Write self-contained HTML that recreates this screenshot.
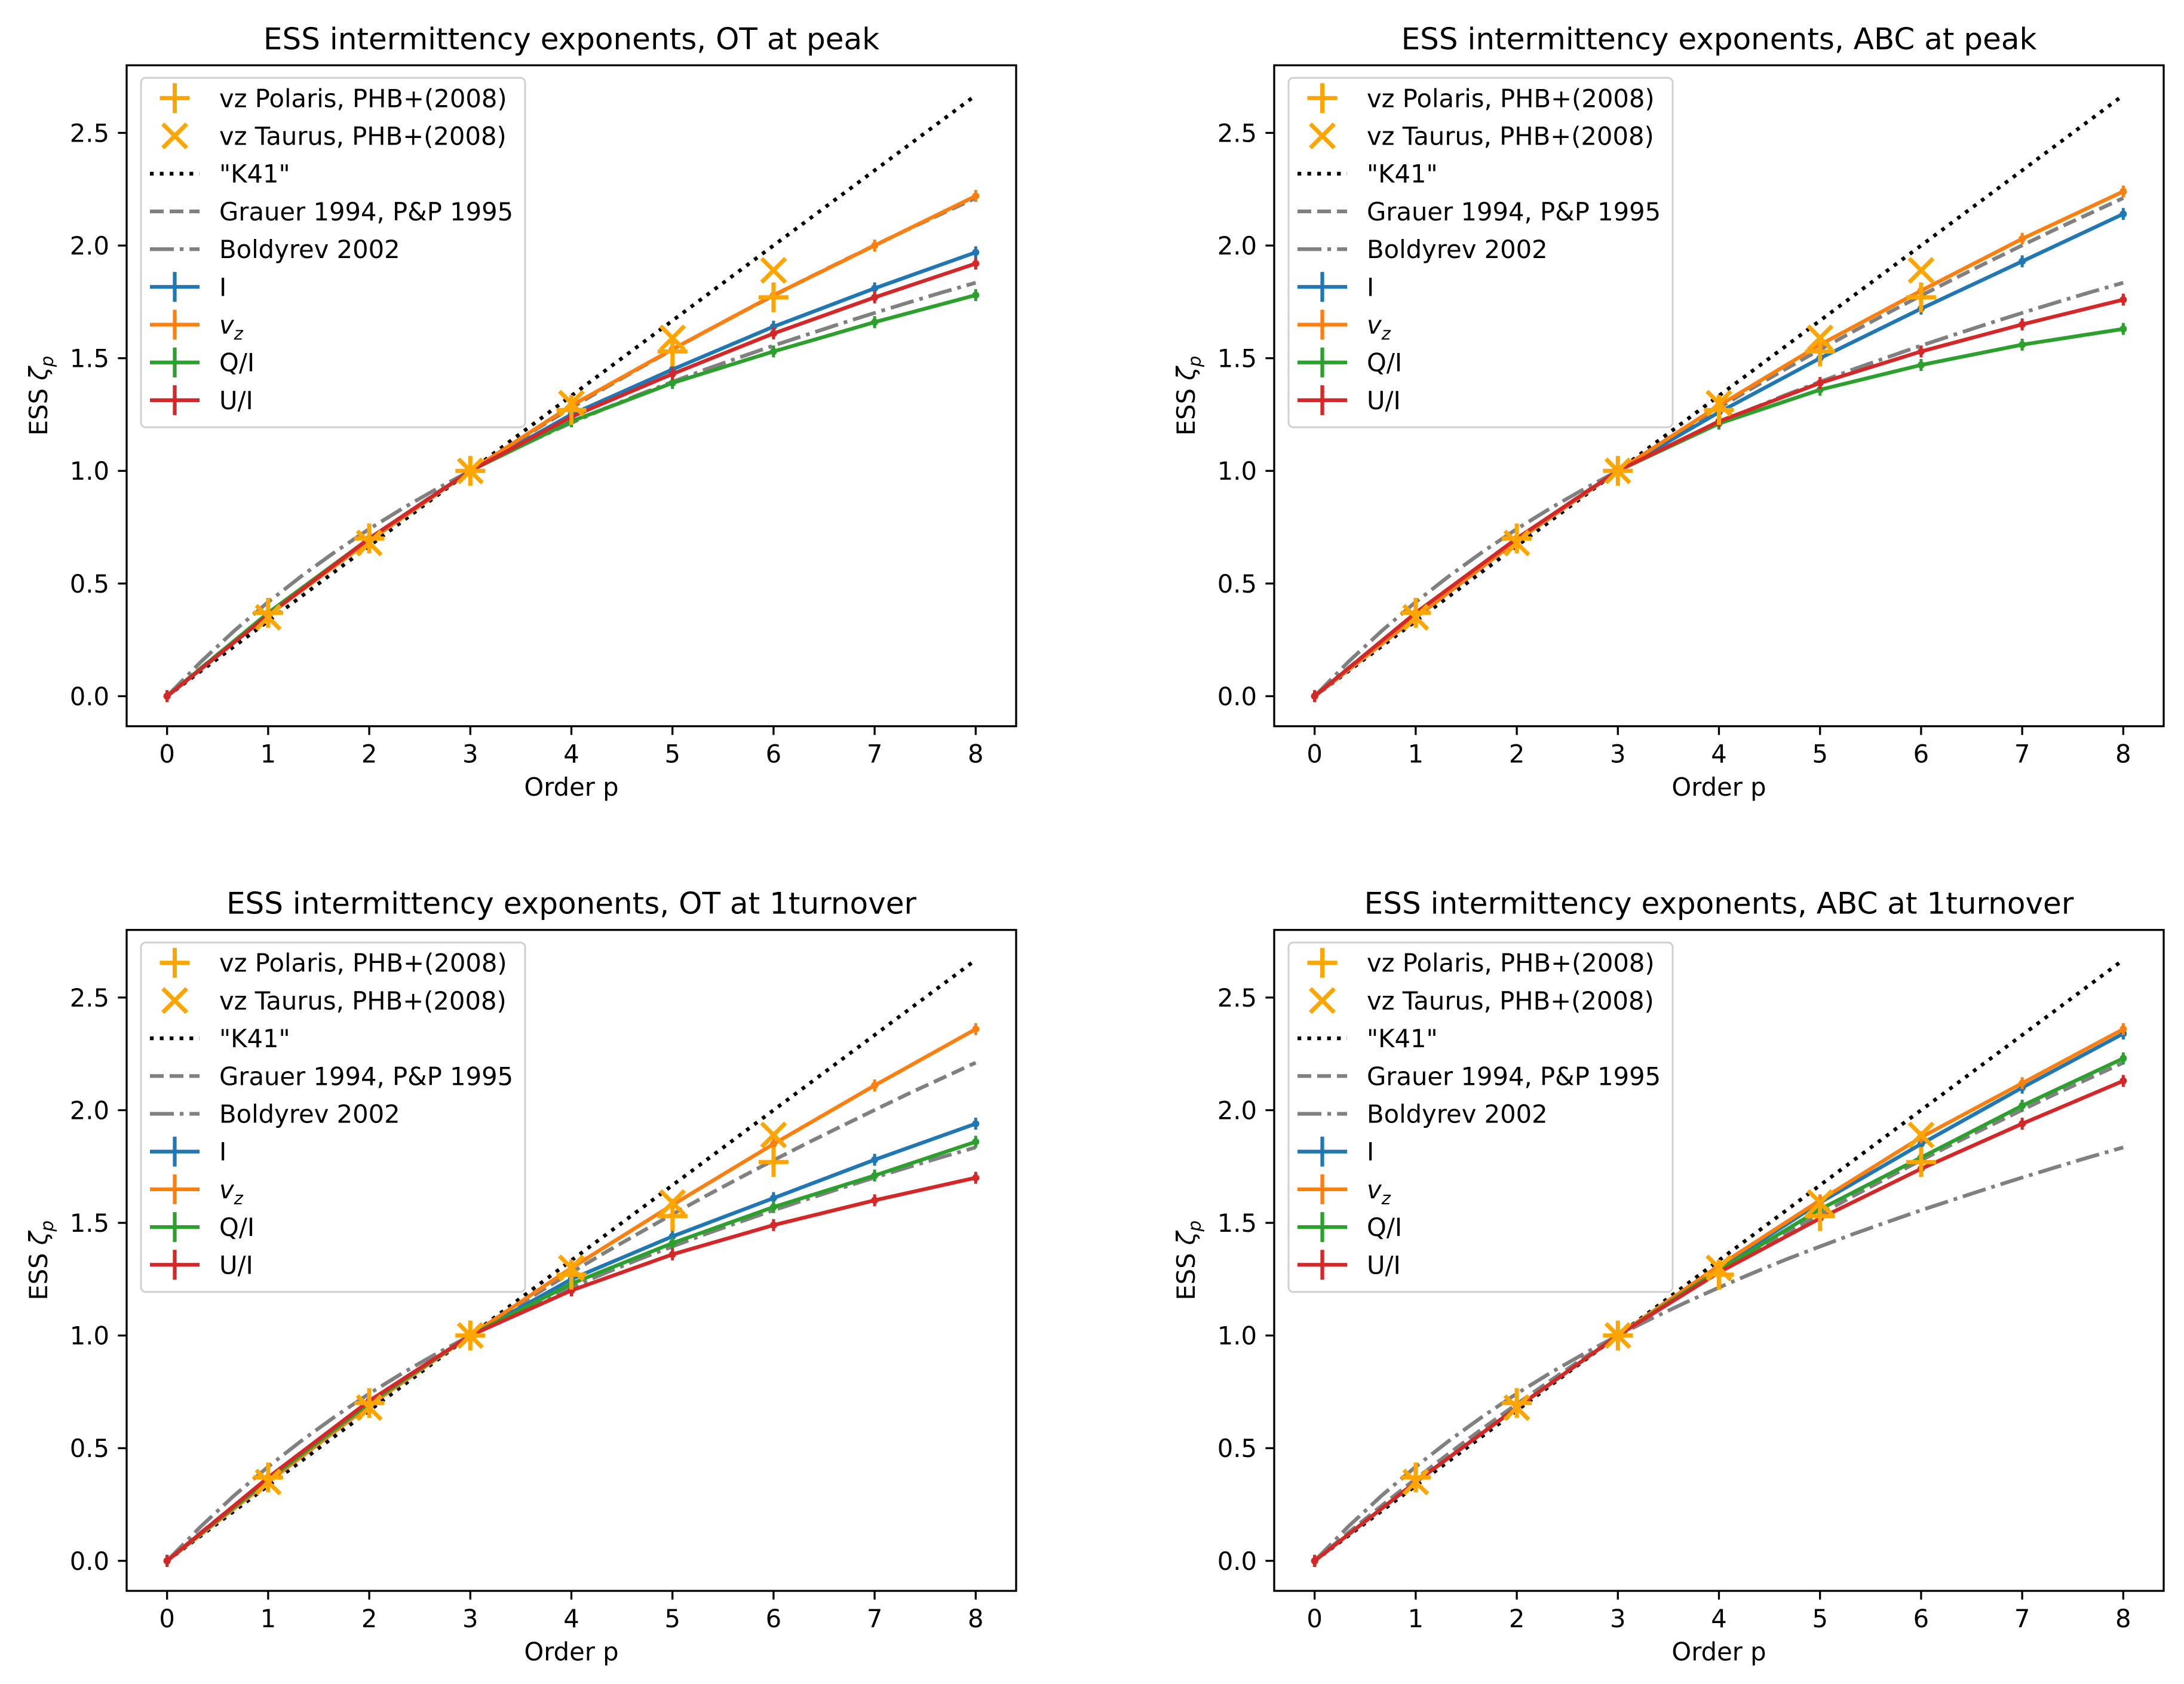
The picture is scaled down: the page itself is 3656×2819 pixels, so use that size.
<!DOCTYPE html>
<html><head><meta charset="utf-8"><style>
html,body{margin:0;padding:0;background:#fff;}
svg{display:block;font-family:"DejaVu Sans","Liberation Sans",sans-serif;}
</style></head><body>
<svg id="fig" xmlns="http://www.w3.org/2000/svg" width="3656" height="2819" viewBox="0 0 3656 2819"></svg>
<script>
// ---- data ----
const orders = [0,1,2,3,4,5,6,7,8];
const k41P = [0,8];
const k41V = [0,2.667];
const modelP = [0,0.333,0.667,1,1.333,1.667,2,2.333,2.667,3,3.333,3.667,4,4.333,4.667,5,5.333,5.667,6,6.333,6.667,7,7.333,7.667,8];
const grauerV = [0,0.125,0.246,0.364,0.478,0.589,0.696,0.800,0.902,1.000,1.096,1.189,1.280,1.368,1.454,1.538,1.620,1.700,1.778,1.854,1.928,2.001,2.073,2.142,2.211];
const boldyrevV = [0,0.152,0.291,0.418,0.534,0.642,0.742,0.834,0.920,1.000,1.075,1.146,1.213,1.277,1.338,1.395,1.451,1.504,1.556,1.605,1.654,1.701,1.747,1.792,1.835];
const obsP = [1,2,3,4,5,6];
const polarisV = [0.37,0.70,1.00,1.27,1.53,1.77];
const taurusV = [0.35,0.68,1.00,1.30,1.59,1.89];

const otPeakI  = [0,0.36,0.70,1.0,1.25,1.45,1.64,1.81,1.97];
const otPeakVz = [0,0.36,0.69,1.0,1.29,1.54,1.78,2.00,2.22];
const otPeakQ  = [0,0.37,0.70,1.0,1.22,1.39,1.53,1.66,1.78];
const otPeakU  = [0,0.36,0.70,1.0,1.24,1.43,1.61,1.77,1.92];

const abcPeakI  = [0,0.35,0.69,1.0,1.26,1.50,1.72,1.93,2.14];
const abcPeakVz = [0,0.35,0.69,1.0,1.29,1.56,1.80,2.03,2.24];
const abcPeakQ  = [0,0.37,0.70,1.0,1.21,1.36,1.47,1.56,1.63];
const abcPeakU  = [0,0.37,0.70,1.0,1.22,1.39,1.53,1.65,1.76];

const otTurnI  = [0,0.36,0.70,1.0,1.25,1.44,1.61,1.78,1.94];
const otTurnVz = [0,0.35,0.69,1.0,1.30,1.58,1.85,2.11,2.36];
const otTurnQ  = [0,0.36,0.70,1.0,1.23,1.41,1.57,1.71,1.86];
const otTurnU  = [0,0.37,0.71,1.0,1.20,1.36,1.49,1.60,1.70];

const abcTurnI  = [0,0.35,0.68,1.0,1.30,1.59,1.85,2.10,2.34];
const abcTurnVz = [0,0.35,0.68,1.0,1.31,1.60,1.88,2.12,2.36];
const abcTurnQ  = [0,0.35,0.68,1.0,1.29,1.56,1.79,2.02,2.23];
const abcTurnU  = [0,0.35,0.68,1.0,1.28,1.52,1.74,1.94,2.13];

const xTicks = [0,1,2,3,4,5,6,7,8];
const yTicks = [0,0.5,1.0,1.5,2.0,2.5];
const yTickLabels = ["0.0","0.5","1.0","1.5","2.0","2.5"];
const panelTitles = ["ESS intermittency exponents, OT at peak","ESS intermittency exponents, ABC at peak","ESS intermittency exponents, OT at 1turnover","ESS intermittency exponents, ABC at 1turnover"];

const NS="http://www.w3.org/2000/svg";
const svg=document.getElementById('fig');
function mk(tag,attrs,parent){const e=document.createElementNS(NS,tag);for(const k in attrs)e.setAttribute(k,attrs[k]);(parent||svg).appendChild(e);return e;}

const W=1489,H=1106.4,XMIN=-0.4,XMAX=8.4,YMIN=-0.1333,YMAX=2.8;
const FS=41.7;
const C={I:"#1f77b4",vz:"#ff7f0e",Q:"#2ca02c",U:"#d62728",obs:"#ffa500",grey:"#808080"};

const panels=[
 {x0:212,y0:109.3,title:panelTitles[0],I:otPeakI,vz:otPeakVz,Q:otPeakQ,U:otPeakU,key:"ot-peak"},
 {x0:2133,y0:109.3,title:panelTitles[1],I:abcPeakI,vz:abcPeakVz,Q:abcPeakQ,U:abcPeakU,key:"abc-peak"},
 {x0:212,y0:1556.7,title:panelTitles[2],I:otTurnI,vz:otTurnVz,Q:otTurnQ,U:otTurnU,key:"ot-1turnover"},
 {x0:2133,y0:1556.7,title:panelTitles[3],I:abcTurnI,vz:abcTurnVz,Q:abcTurnQ,U:abcTurnU,key:"abc-1turnover"}
];

function plusMarker(g,cx,cy,s,col,w){mk('line',{x1:cx-s,y1:cy,x2:cx+s,y2:cy,stroke:col,'stroke-width':w},g);mk('line',{x1:cx,y1:cy-s,x2:cx,y2:cy+s,stroke:col,'stroke-width':w},g);}
function xMarker(g,cx,cy,s,col,w){mk('line',{x1:cx-s,y1:cy-s,x2:cx+s,y2:cy+s,stroke:col,'stroke-width':w},g);mk('line',{x1:cx-s,y1:cy+s,x2:cx+s,y2:cy-s,stroke:col,'stroke-width':w},g);}

panels.forEach(p=>{
  const sx=v=>p.x0+(v-XMIN)/(XMAX-XMIN)*W;
  const sy=v=>p.y0+H-(v-YMIN)/(YMAX-YMIN)*H;
  const g=mk('g',{});
  
  
  const clipId='clip-'+p.key;
  const cp=mk('clipPath',{id:clipId},g);mk('rect',{x:p.x0,y:p.y0,width:W,height:H},cp);
  const plot=mk('g',{'clip-path':'url(#'+clipId+')'},g);
  
  
  function poly(xs,ys,col,dash,name,w){
    const pts=xs.map((x,i)=>sx(x).toFixed(1)+','+sy(ys[i]).toFixed(1)).join(' ');
    const e=mk('polyline',{points:pts,fill:'none',stroke:col,'stroke-width':w||6.25,'stroke-dasharray':dash||'none','stroke-linejoin':'round'},plot);
    
    
    return e;
  }
  poly(k41P,k41V,'#000','6.25,10.3','k41-line');
  poly(modelP,grauerV,C.grey,'23,10','grauer-line');
  poly(modelP,boldyrevV,C.grey,'40,10,6.25,10','boldyrev-line');
  [['I',p.I],['vz',p.vz],['Q',p.Q],['U',p.U]].forEach(([k,arr])=>{
    poly(orders,arr,C[k],null,'series-'+k.toLowerCase());
    arr.forEach((v,i)=>{
      const m=mk('g',{},plot);
      
      
      mk('line',{x1:sx(orders[i]),y1:sy(v)-10,x2:sx(orders[i]),y2:sy(v)+10,stroke:C[k],'stroke-width':5},m);
      mk('circle',{cx:sx(orders[i]),cy:sy(v),r:6,fill:C[k]},m);
    });
  });
  obsP.forEach((x,i)=>{
    const m=mk('g',{},plot);
    
    
    plusMarker(m,sx(x),sy(polarisV[i]),25,C.obs,7);
  });
  obsP.forEach((x,i)=>{
    const m=mk('g',{},plot);
    
    
    xMarker(m,sx(x),sy(taurusV[i]),20,C.obs,7);
  });
  // frame
  const fr=mk('rect',{x:p.x0,y:p.y0,width:W,height:H,fill:'none',stroke:'#000','stroke-width':3.3},g);
  
  
  // x ticks
  xTicks.forEach(t=>{
    const X=sx(t);
    mk('line',{x1:X,y1:p.y0+H,x2:X,y2:p.y0+H+14.6,stroke:'#000','stroke-width':3.3},g);
    const tx=mk('text',{x:X,y:p.y0+H+29+FS*0.76,'font-size':FS,'text-anchor':'middle',fill:'#000'},g);
    tx.textContent=t;
    
    
  });
  yTicks.forEach((t,i)=>{
    const Y=sy(t);
    mk('line',{x1:p.x0-14.6,y1:Y,x2:p.x0,y2:Y,stroke:'#000','stroke-width':3.3},g);
    const tx=mk('text',{x:p.x0-29,y:Y+FS*0.36,'font-size':FS,'text-anchor':'end',fill:'#000'},g);
    tx.textContent=yTickLabels[i];
    
    
  });
  const xl=mk('text',{x:p.x0+W/2,y:p.y0+H+29+FS+14+FS*0.76,'font-size':FS,'text-anchor':'middle'},g);
  xl.textContent='Order p';
  
  
  const yl=mk('text',{x:0,y:0,'font-size':FS,'text-anchor':'middle',transform:`translate(${p.x0-133},${p.y0+H/2}) rotate(-90)`},g);
  yl.innerHTML='ESS <tspan font-style="italic">ζ</tspan><tspan font-style="italic" font-size="29" dy="10">p</tspan>';
  
  
  const tt=mk('text',{x:p.x0+W/2,y:p.y0-27,'font-size':50,'text-anchor':'middle'},g);
  tt.textContent=p.title;
  
  
  // legend
  const lg=mk('g',{},g);
  
  
  const lx=p.x0+24,ly=p.y0+21;
  mk('rect',{x:lx,y:ly,width:643,height:585,rx:8,fill:'#fff','fill-opacity':0.8,stroke:'#d0d0d0','stroke-width':3},lg);
  const items=[
    ['plus','vz Polaris, PHB+(2008)'],['x','vz Taurus, PHB+(2008)'],['k41','"K41"'],
    ['grauer','Grauer 1994, P&P 1995'],['bold','Boldyrev 2002'],['I','I'],['vz','vz'],['Q','Q/I'],['U','U/I']];
  items.forEach((it,i)=>{
    const cy=ly+34+i*63.2, h0=lx+15, h1=lx+98, hc=(h0+h1)/2;
    const e=mk('g',{},lg);
    
    
    const k=it[0];
    if(k==='plus')plusMarker(e,hc,cy,25,C.obs,7);
    else if(k==='x')xMarker(e,hc,cy,20,C.obs,7);
    else if(k==='k41')mk('line',{x1:h0,y1:cy,x2:h1,y2:cy,stroke:'#000','stroke-width':6.25,'stroke-dasharray':'6.25,10.3'},e);
    else if(k==='grauer')mk('line',{x1:h0,y1:cy,x2:h1,y2:cy,stroke:C.grey,'stroke-width':6.25,'stroke-dasharray':'23,10'},e);
    else if(k==='bold')mk('line',{x1:h0,y1:cy,x2:h1,y2:cy,stroke:C.grey,'stroke-width':6.25,'stroke-dasharray':'40,10,6.25,10'},e);
    else{mk('line',{x1:h0,y1:cy,x2:h1,y2:cy,stroke:C[k],'stroke-width':6.25},e);mk('line',{x1:hc,y1:cy-25,x2:hc,y2:cy+25,stroke:C[k],'stroke-width':6.25},e);}
    const t=mk('text',{x:lx+131,y:cy+15,'font-size':FS},e);
    if(k==='vz')t.innerHTML='<tspan font-style="italic">v</tspan><tspan font-style="italic" font-size="29" dy="10">z</tspan>';
    else t.textContent=it[1];
  });
});
</script>
</body></html>
